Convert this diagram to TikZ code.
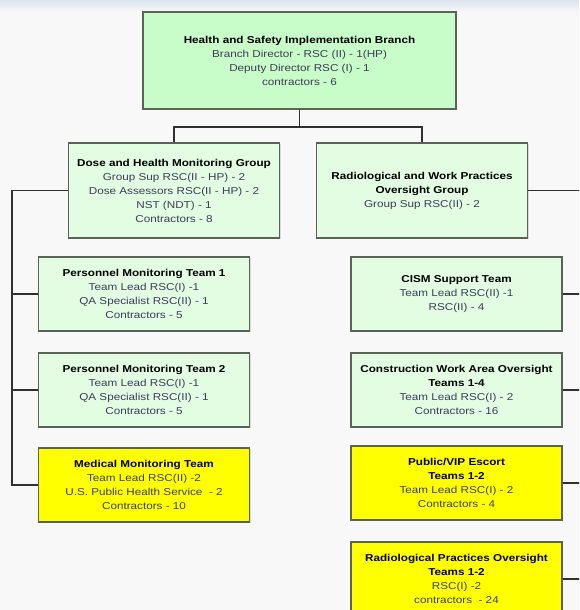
\documentclass[tikz,border=0pt]{standalone}
\usepackage{fontspec}
\setmainfont[FakeStretch=1.17]{Liberation Sans}
\usetikzlibrary{shadows}
\definecolor{pagebg}{HTML}{F8F8F8}
\definecolor{topband}{HTML}{DCE4EE}
\definecolor{headfill}{HTML}{C8FCC8}
\definecolor{unitfill}{HTML}{E2FDE2}
\definecolor{taskfill}{HTML}{FFFF00}
\definecolor{boxline}{HTML}{5A625A}
\definecolor{wire}{HTML}{303030}
\definecolor{bodytext}{HTML}{3C3C58}
\tikzset{
  x=1pt, y=-1pt,
  orgbox/.style={draw=boxline, line width=1.6pt, align=center, inner sep=2pt,
    font=\fontsize{10}{14}\selectfont, text=bodytext,
    drop shadow={shadow xshift=1pt, shadow yshift=-1pt, fill=black!25}},
  headbox/.style={orgbox, fill=headfill, minimum width=313pt, minimum height=97pt},
  unitbox/.style={orgbox, fill=unitfill, minimum width=211pt},
  taskbox/.style={orgbox, fill=taskfill, minimum width=211pt},
  wireline/.style={draw=wire, line width=1.5pt},
}
\newcommand{\ttl}[1]{\textcolor{black}{\textbf{#1}}}
\begin{document}
\begin{tikzpicture}
  \useasboundingbox (0,0) rectangle (579,610);
  \clip (0,0) rectangle (579,610);
  \fill[pagebg] (0,0) rectangle (579,610);
  \shade[top color=topband, bottom color=pagebg] (0,0) rectangle (579,12);

  % branch head
  \node[headbox] (top) at (299.5,60.5)
    {\ttl{Health and Safety Implementation Branch}\\Branch Director - RSC (II) - 1(HP)\\Deputy Director RSC (I) - 1\\contractors - 6};

  % groups
  \node[unitbox, minimum height=95pt] (dose) at (174,190.5)
    {\ttl{Dose and Health Monitoring Group}\\Group Sup RSC(II - HP) - 2\\Dose Assessors RSC(II - HP) - 2\\NST (NDT) - 1\\Contractors - 8};
  \node[unitbox, minimum height=95pt] (rad) at (422,190.5)
    {\ttl{Radiological and Work Practices}\\\ttl{Oversight Group}\\Group Sup RSC(II) - 2};

  % left teams
  \node[unitbox, minimum height=74pt] (pmt1) at (144,294)
    {\ttl{Personnel Monitoring Team 1}\\Team Lead RSC(I) -1\\QA Specialist RSC(II) - 1\\Contractors - 5};
  \node[unitbox, minimum height=74pt] (pmt2) at (144,390)
    {\ttl{Personnel Monitoring Team 2}\\Team Lead RSC(I) -1\\QA Specialist RSC(II) - 1\\Contractors - 5};
  \node[taskbox, minimum height=74pt] (med) at (144,485)
    {\ttl{Medical Monitoring Team}\\Team Lead RSC(II) -2\\U.S. Public Health Service\ \ - 2\\Contractors - 10};

  % right teams
  \node[unitbox, minimum height=74pt] (cism) at (456.5,294)
    {\ttl{CISM Support Team}\\Team Lead RSC(II) -1\\RSC(II) - 4};
  \node[unitbox, minimum height=74pt] (cons) at (456.5,390)
    {\ttl{Construction Work Area Oversight}\\\ttl{Teams 1-4}\\Team Lead RSC(I) - 2\\Contractors - 16};
  \node[taskbox, minimum height=74pt] (vip) at (456.5,483)
    {\ttl{Public/VIP Escort}\\\ttl{Teams 1-2}\\Team Lead RSC(I) - 2\\Contractors - 4};
  \node[taskbox, minimum height=74pt] (radp) at (456.5,579)
    {\ttl{Radiological Practices Oversight}\\\ttl{Teams 1-2}\\RSC(I) -2\\contractors\ \ - 24};

  % connectors
  \coordinate (bus) at (300,127);
  \coordinate (lbus) at (12,190.5);
  \coordinate (redge) at (584,0);

  \draw[wireline] (top.south) -- (top.south |- bus);
  \draw[wireline] (dose.north) |- (bus) -| (rad.north);

  \draw[wireline] (dose.west) -- (lbus) |- (med.west);
  \draw[wireline] (lbus |- pmt1.west) -- (pmt1.west);
  \draw[wireline] (lbus |- pmt2.west) -- (pmt2.west);

  \draw[wireline] (rad.east) -- (rad.east -| redge);
  \draw[wireline] (cism.east) -- (cism.east -| redge);
  \draw[wireline] (cons.east) -- (cons.east -| redge);
  \draw[wireline] (vip.east) -- (vip.east -| redge);
  \draw[wireline] (radp.east) -- (radp.east -| redge);
\end{tikzpicture}
\end{document}
